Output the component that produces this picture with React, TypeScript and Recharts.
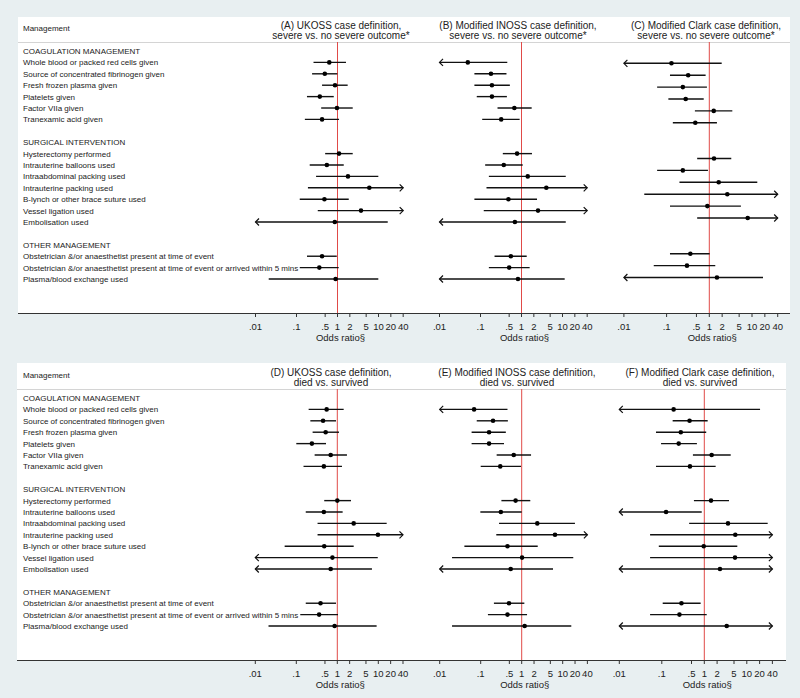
import React from 'react';
import { ScatterChart, Scatter, XAxis, YAxis, ReferenceLine, ReferenceDot } from 'recharts';

// row labels
const groups = ['COAGULATION MANAGEMENT', 'SURGICAL INTERVENTION', 'OTHER MANAGEMENT'];
const coagItems = [
  'Whole blood or packed red cells given',
  'Source of concentrated fibrinogen given',
  'Fresh frozen plasma given',
  'Platelets given',
  'Factor VIIa given',
  'Tranexamic acid given',
];
const surgItems = [
  'Hysterectomy performed',
  'Intrauterine balloons used',
  'Intraabdominal packing used',
  'Intrauterine packing used',
  'B-lynch or other brace suture used',
  'Vessel ligation used',
  'Embolisation used',
];
const otherItems = [
  'Obstetrician &/or anaesthetist present at time of event',
  'Obstetrician &/or anaesthetist present at time of event or arrived within 5 mins',
  'Plasma/blood exchange used',
];
const itemGroups = [coagItems, surgItems, otherItems];

const ticks = [0.01, 0.1, 0.5, 1, 2, 5, 10, 20, 40];
const tickLabels = ['.01', '.1', '.5', '1', '2', '5', '10', '20', '40'];
const CLIP_LO = 0.01;
const CLIP_HI = 40;

// odds ratios and 95% CI, one value per item (null = not estimated)
const aOR = [0.63, 0.49, 0.87, 0.37, 0.97, 0.42, 1.09, 0.55, 1.8, 5.97, 0.48, 3.74, 0.86, 0.42, 0.36, 0.9];
const aLo = [0.26, 0.24, 0.42, 0.18, 0.4, 0.16, 0.5, 0.21, 0.3, 0.19, 0.12, 0.33, 0.01, 0.18, 0.12, 0.021];
const aHi = [1.61, 0.99, 1.77, 0.81, 2.35, 1.09, 2.35, 1.42, 9.9, 40, 1.88, 40, 16.8, 0.96, 1.07, 9.9];

const bOR = [0.049, 0.18, 0.19, 0.19, 0.67, 0.32, 0.78, 0.37, 1.42, 4.03, 0.48, 2.53, 0.69, 0.55, 0.5, 0.82];
const bLo = [0.01, 0.071, 0.071, 0.081, 0.26, 0.11, 0.35, 0.13, 0.16, 0.14, 0.071, 0.12, 0.01, 0.22, 0.16, 0.01];
const bHi = [0.45, 0.43, 0.52, 0.44, 1.77, 0.9, 1.8, 1.07, 12, 40, 2.39, 40, 12, 1.34, 1.58, 11.3];

const cOR = [0.13, 0.32, 0.24, 0.28, 1.27, 0.47, 1.29, 0.24, 1.66, 2.64, 0.9, 7.93, null, 0.36, 0.3, 1.51];
const cLo = [0.01, 0.12, 0.06, 0.11, 0.46, 0.14, 0.52, 0.06, 0.2, 0.03, 0.12, 0.52, null, 0.12, 0.05, 0.01];
const cHi = [1.95, 0.82, 0.88, 0.74, 3.46, 1.51, 3.27, 0.93, 13.3, 40, 5.5, 40, null, 1.02, 1.38, 18.1];

const dOR = [0.55, 0.45, 0.52, 0.24, 0.69, 0.47, 1.0, 0.47, 2.51, 9.8, 0.48, 0.76, 0.69, 0.39, 0.36, 0.86];
const dLo = [0.2, 0.22, 0.25, 0.1, 0.28, 0.15, 0.48, 0.17, 0.33, 0.33, 0.052, 0.01, 0.01, 0.17, 0.125, 0.021];
const dHi = [1.43, 0.93, 1.1, 0.53, 1.72, 1.3, 2.16, 1.35, 16, 40, 2.51, 9.7, 7.0, 0.93, 1.04, 9.1];

const eOR = [0.069, 0.2, 0.16, 0.16, 0.64, 0.3, 0.71, 0.31, 2.4, 6.49, 0.45, 1.02, 0.54, 0.49, 0.45, 1.18];
const eLo = [0.01, 0.08, 0.06, 0.06, 0.245, 0.1, 0.32, 0.098, 0.28, 0.24, 0.04, 0.02, 0.01, 0.21, 0.15, 0.02];
const eHi = [0.45, 0.46, 0.41, 0.37, 1.69, 0.96, 1.62, 1.0, 19.9, 40, 2.46, 18.1, 5.8, 1.16, 1.35, 16.2];

const fOR = [0.19, 0.45, 0.28, 0.25, 1.49, 0.46, 1.44, 0.126, 3.61, 5.36, 0.97, 5.28, 2.34, 0.29, 0.26, 3.37];
const fLo = [0.01, 0.18, 0.073, 0.096, 0.54, 0.073, 0.57, 0.01, 0.44, 0.053, 0.085, 0.053, 0.01, 0.105, 0.053, 0.01];
const fHi = [20.5, 1.2, 1.11, 0.67, 4.18, 1.85, 3.81, 0.87, 31, 40, 5.98, 40, 40, 0.82, 1.14, 40];

const RED = '#e04a48';
const INK = '#111';
const TEXT = '#222';
const FONT = '"Liberation Sans", Arial, sans-serif';
const PLOT_H = 271;
const AXIS_H = 34;

type Panel = {
  title: string[];
  or: (number | null)[];
  lo: (number | null)[];
  hi: (number | null)[];
  plotL: number;
  plotR: number;
  one: number;
  dec: number;
  titleX: number;
  labels: boolean;
};

const topPanels: Panel[] = [
  { title: ['(A) UKOSS case definition,', 'severe vs. no severe outcome*'], or: aOR, lo: aLo, hi: aHi, plotL: 240, plotR: 420, one: 337.5, dec: 41, titleX: 341, labels: true },
  { title: ['(B) Modified INOSS case definition,', 'severe vs. no severe outcome*'], or: bOR, lo: bLo, hi: bHi, plotL: 425, plotR: 598, one: 521.5, dec: 41, titleX: 518, labels: false },
  { title: ['(C) Modified Clark case definition,', 'severe vs. no severe outcome*'], or: cOR, lo: cLo, hi: cHi, plotL: 600, plotR: 790, one: 709.3, dec: 42.7, titleX: 706, labels: false },
];
const bottomPanels: Panel[] = [
  { title: ['(D) UKOSS case definition,', 'died vs. survived'], or: dOR, lo: dLo, hi: dHi, plotL: 240, plotR: 420, one: 337.3, dec: 41, titleX: 331, labels: true },
  { title: ['(E) Modified INOSS case definition,', 'died vs. survived'], or: eOR, lo: eLo, hi: eHi, plotL: 425, plotR: 598, one: 521.7, dec: 41, titleX: 517, labels: false },
  { title: ['(F) Modified Clark case definition,', 'died vs. survived'], or: fOR, lo: fLo, hi: fHi, plotL: 600, plotR: 786, one: 704.3, dec: 42.5, titleX: 700, labels: false },
];

function buildRows(p: Panel) {
  const labelRows: { row: number; text: string }[] = [];
  const points: { row: number; or: number; lo: number; hi: number }[] = [];
  let r = 0;
  let k = 0;
  itemGroups.forEach((items, g) => {
    labelRows.push({ row: r, text: groups[g] });
    r++;
    items.forEach((text) => {
      const v = p.or[k];
      if (v != null) {
        labelRows.push({ row: r, text });
        points.push({ row: r, or: v, lo: p.lo[k] as number, hi: p.hi[k] as number });
        r++;
      }
      k++;
    });
    if (g < itemGroups.length - 1) r++;
  });
  return { labelRows, points, last: r - 1 };
}

function ForestPanel({ p, top }: { p: Panel; top: number }) {
  const { labelRows, points, last } = buildRows(p);
  const chartL = p.labels ? 18 : p.plotL;
  const domain = [10 ** ((p.plotL - p.one) / p.dec), 10 ** ((p.plotR - p.one) / p.dec)];
  const labelDx = p.one + 3 - (p.plotL + p.plotR) / 2;
  const textOf: Record<number, string> = {};
  labelRows.forEach((l) => (textOf[l.row] = l.text));

  return (
    <div style={{ position: 'absolute', left: chartL, top }}>
      <ScatterChart width={p.plotR - chartL} height={PLOT_H + AXIS_H} margin={{ top: 0, right: 0, bottom: 0, left: 0 }}>
        <XAxis
          type="number"
          dataKey="or"
          scale="log"
          domain={domain}
          allowDataOverflow
          ticks={ticks}
          interval={0}
          tickFormatter={(v: number) => tickLabels[ticks.indexOf(v)] ?? String(v)}
          axisLine={false}
          tickSize={4}
          tickMargin={6}
          height={AXIS_H}
          tick={{ fontSize: 9.5, fill: TEXT }}
          tickLine={{ stroke: '#333' }}
          label={{ value: 'Odds ratio§', position: 'insideBottom', offset: 6, dx: labelDx, fontSize: 9.5, fill: TEXT }}
        />
        <YAxis
          type="number"
          dataKey="row"
          domain={[-0.79, last + 2.98]}
          reversed
          allowDataOverflow
          hide={!p.labels}
          width={p.plotL - chartL}
          ticks={labelRows.map((l) => l.row)}
          interval={0}
          axisLine={false}
          tickLine={false}
          tick={(t: any) => (
            <text x={5} y={t.y} dy={3} fontSize={8} fill={TEXT}>
              {textOf[t.payload.value]}
            </text>
          )}
        />
        <ReferenceLine x={1} stroke={RED} strokeWidth={1} />
        {points.map((pt) => (
          <ReferenceLine
            key={'ci' + pt.row}
            segment={[{ x: pt.lo, y: pt.row }, { x: pt.hi, y: pt.row }]}
            stroke={INK}
            strokeWidth={1.4}
          />
        ))}
        {points
          .filter((pt) => pt.lo <= CLIP_LO)
          .map((pt) => (
            <ReferenceDot
              key={'la' + pt.row}
              x={CLIP_LO}
              y={pt.row}
              r={3}
              shape={(s: any) => (
                <path d={`M${s.cx + 3.5},${s.cy - 3.5}L${s.cx},${s.cy}L${s.cx + 3.5},${s.cy + 3.5}`} fill="none" stroke={INK} strokeWidth={1.2} />
              )}
            />
          ))}
        {points
          .filter((pt) => pt.hi >= CLIP_HI)
          .map((pt) => (
            <ReferenceDot
              key={'ra' + pt.row}
              x={CLIP_HI}
              y={pt.row}
              r={3}
              shape={(s: any) => (
                <path d={`M${s.cx - 3.5},${s.cy - 3.5}L${s.cx},${s.cy}L${s.cx - 3.5},${s.cy + 3.5}`} fill="none" stroke={INK} strokeWidth={1.2} />
              )}
            />
          ))}
        <Scatter
          data={points}
          isAnimationActive={false}
          shape={(s: any) => <circle cx={s.cx} cy={s.cy} r={2.3} fill="#000" />}
        />
      </ScatterChart>
    </div>
  );
}

function Titles({ panels, top }: { panels: Panel[]; top: number }) {
  return (
    <>
      {panels.map((p) => (
        <div
          key={p.title[0]}
          style={{ position: 'absolute', left: p.titleX - 110, width: 220, top, textAlign: 'center', fontSize: 10, lineHeight: '9.6px', color: TEXT, whiteSpace: 'nowrap' }}
        >
          {p.title[0]}
          <br />
          {p.title[1]}
        </div>
      ))}
    </>
  );
}

export default function App() {
  return (
    <div style={{ position: 'absolute', left: 0, top: 0, width: 800, height: 698, background: '#e8eff1', fontFamily: FONT, overflow: 'hidden' }}>
      {/* top row */}
      <div style={{ position: 'absolute', left: 18, top: 17, width: 772, height: 296, background: '#fff' }} />
      <div style={{ position: 'absolute', left: 18, top: 42, width: 772, height: 1, background: '#d4d4d4' }} />
      <div style={{ position: 'absolute', left: 18, top: 313, width: 772, height: 1, background: '#333' }} />
      <div style={{ position: 'absolute', left: 23, top: 24, fontSize: 8, lineHeight: '10px', color: TEXT }}>Management</div>
      <Titles panels={topPanels} top={21} />
      {topPanels.map((p) => (
        <ForestPanel key={p.title[0]} p={p} top={42} />
      ))}

      {/* bottom row */}
      <div style={{ position: 'absolute', left: 17, top: 363, width: 769, height: 297, background: '#fff' }} />
      <div style={{ position: 'absolute', left: 17, top: 389, width: 769, height: 1, background: '#d4d4d4' }} />
      <div style={{ position: 'absolute', left: 17, top: 660, width: 769, height: 1, background: '#333' }} />
      <div style={{ position: 'absolute', left: 23, top: 371, fontSize: 8, lineHeight: '10px', color: TEXT }}>Management</div>
      <Titles panels={bottomPanels} top={368} />
      {bottomPanels.map((p) => (
        <ForestPanel key={p.title[0]} p={p} top={389} />
      ))}
    </div>
  );
}
